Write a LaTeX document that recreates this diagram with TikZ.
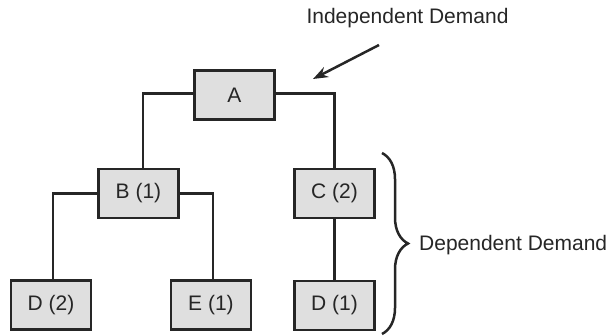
\documentclass[tikz,border=0pt]{standalone}
\usepackage{fontspec}
\setmainfont{Liberation Sans}
\usetikzlibrary{arrows.meta,decorations.pathreplacing}
\definecolor{boxfill}{HTML}{DFDFDF}
\definecolor{ink}{HTML}{262626}
\begin{document}
\begin{tikzpicture}[x=1pt,y=-1pt,
  font=\fontsize{21}{25}\selectfont,
  part/.style={draw=ink,fill=boxfill,line width=2.8pt,minimum width=80pt,minimum height=49pt,inner sep=0pt,text=ink},
  link/.style={draw=ink,line width=2.5pt},
  lbl/.style={inner sep=0pt,text=ink}]
\useasboundingbox (0,0) rectangle (608,336);
\node[part] (A) at (234.5,95) {A};
\node[part] (B) at (138.5,193.5) {B (1)};
\node[part] (C) at (334.5,193.5) {C (2)};
\node[part] (D2) at (51,305) {D (2)};
\node[part] (E1) at (211,305) {E (1)};
\node[part] (D1) at (334.5,305.5) {D (1)};
\draw[link] ([yshift=1.5]A.west) -| ([xshift=4.5]B.north);
\draw[link] ([yshift=1.5]A.east) -| (C.north);
\draw[link] (B.west) -| ([xshift=2]D2.north);
\draw[link] (B.east) -| ([xshift=2]E1.north);
\draw[link] (C.south) -- (D1.north);
\node[lbl,anchor=base] (ind) at (407.5,24) {Independent Demand};
\coordinate (arrS) at (379,45);
\coordinate (arrT) at (313,79);
\draw[link,-{Stealth[length=15pt,width=11pt]}] (arrS) -- (arrT);
\coordinate (brT) at (382,153);
\coordinate (brB) at (382,334);
\draw[ink,line width=2.5pt,decorate,decoration={brace,amplitude=26pt}] (brT) -- (brB);
\node[lbl,anchor=base west] (dep) at (419,251) {Dependent Demand};
\end{tikzpicture}
\end{document}
